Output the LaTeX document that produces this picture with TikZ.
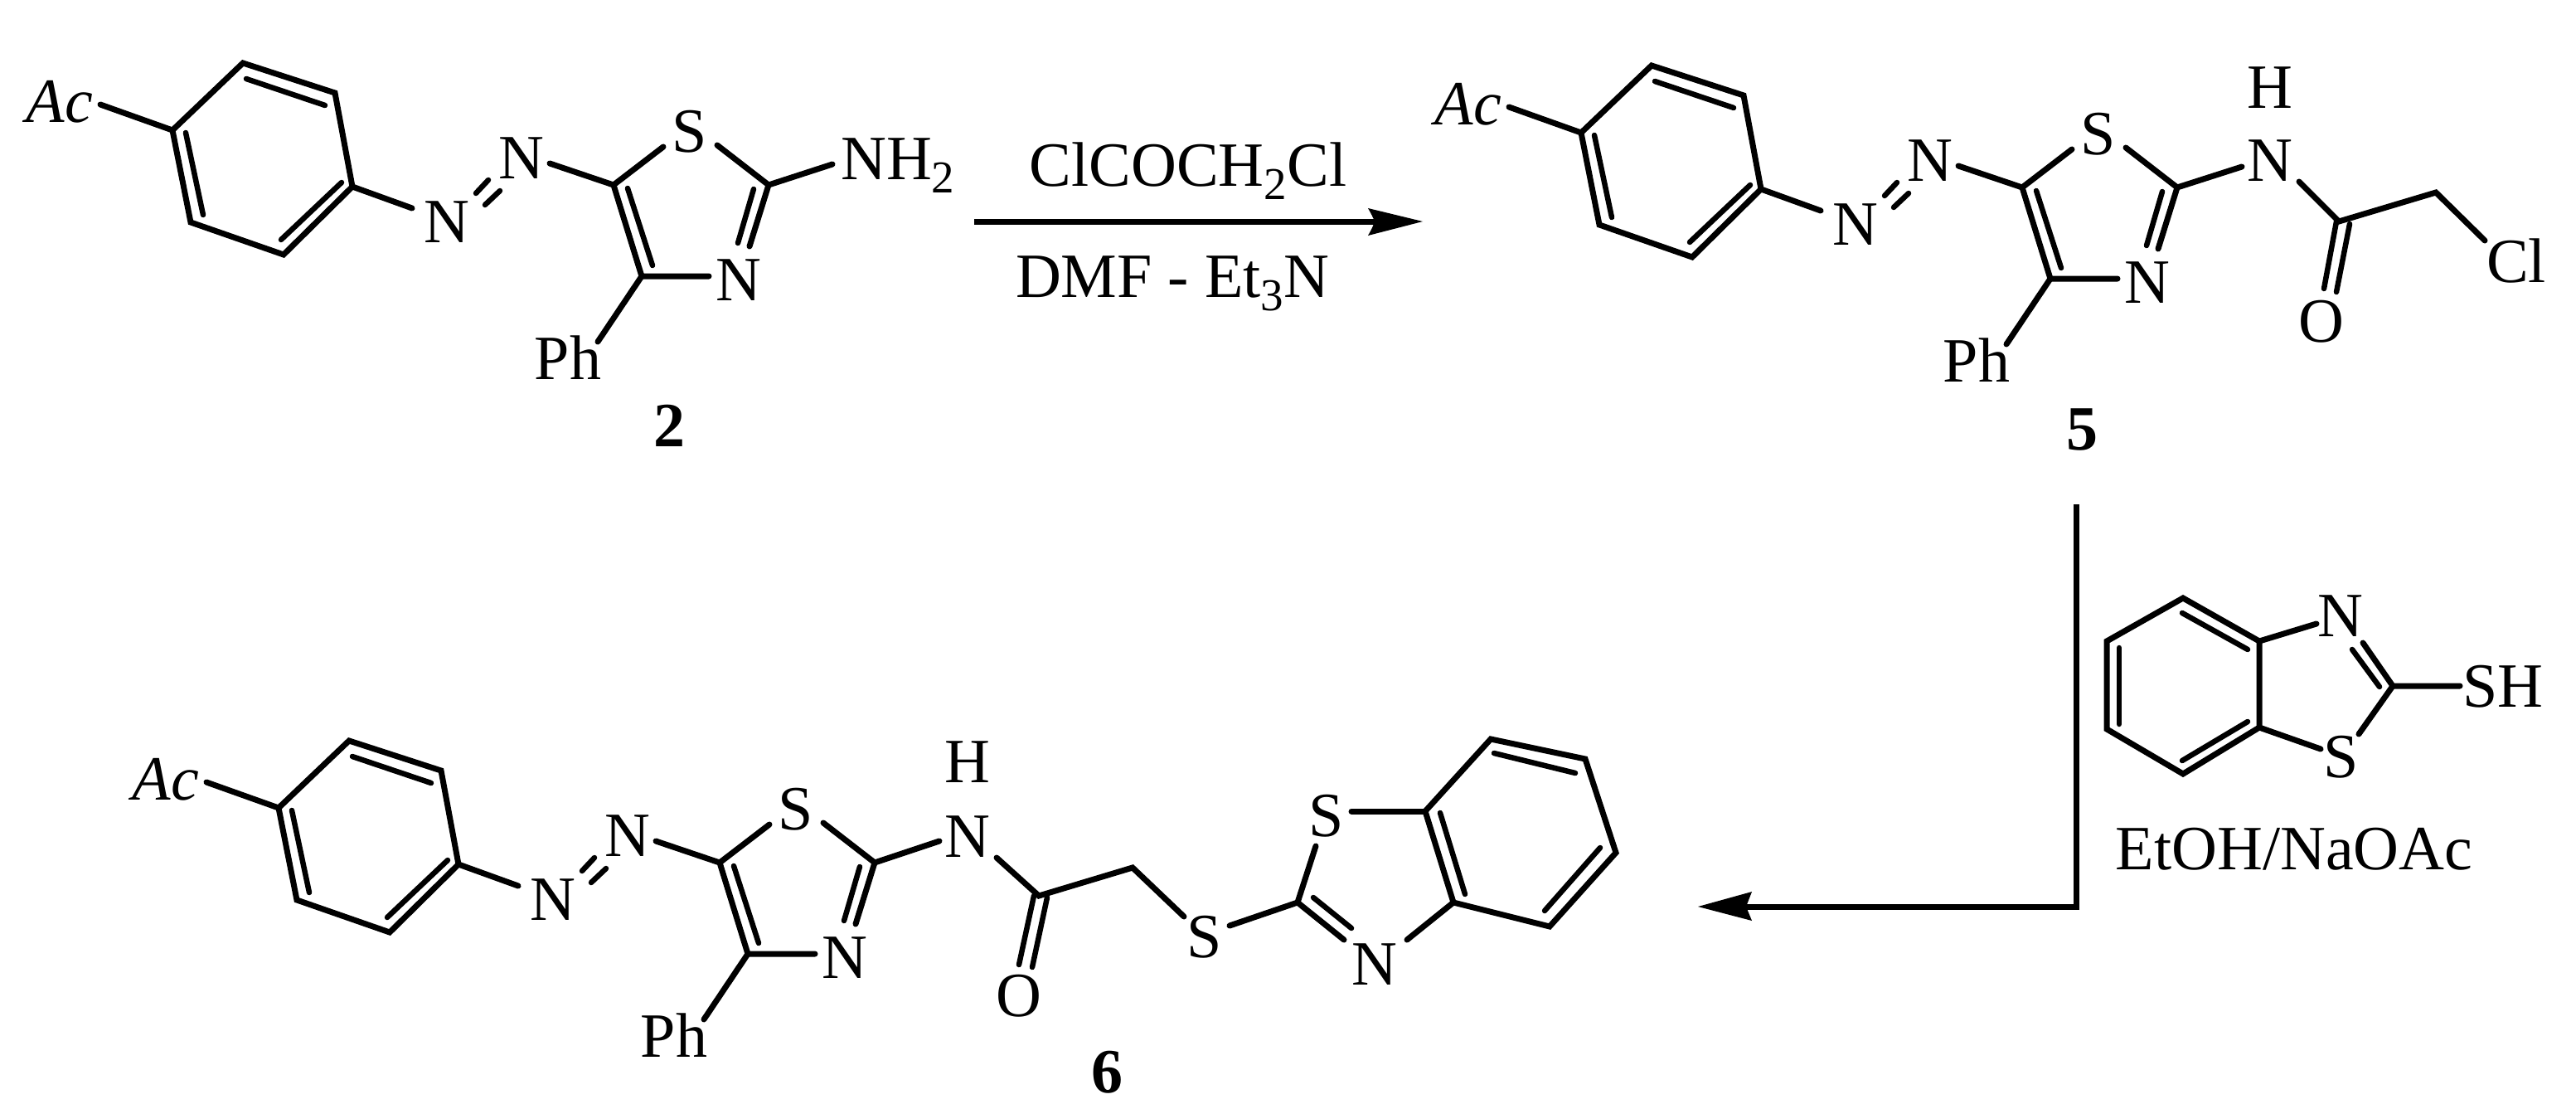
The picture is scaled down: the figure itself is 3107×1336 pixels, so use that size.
\documentclass[tikz,border=0pt]{standalone}
\usepackage{fontspec}
\setmainfont{Liberation Serif}
\newcommand{\atomfont}{\fontsize{76}{80}\selectfont}
\newcommand{\lowtwo}[1]{\raisebox{-16pt}{\fontsize{55}{60}\selectfont #1}}
\tikzset{
  bond/.style={line width=7pt,line cap=round,line join=miter,miter limit=10,black},
  inner/.style={line width=6.5pt,line cap=round,black},
  atomlab/.style={anchor=base,inner sep=0pt,font=\atomfont,text=black},
  molid/.style={anchor=base,inner sep=0pt,font=\atomfont\bfseries,text=black},
  reacarrow/.style={line width=7pt,black},
  arrowhead/.style={fill=black,draw=none}
}
% azo-phenyl-thiazole core: #1 prefix
\newcommand{\thiazolecore}[1]{
  \coordinate (#1a) at (208,157);
  \coordinate (#1b) at (293,76);
  \coordinate (#1c) at (404,112);
  \coordinate (#1d) at (425,225);
  \coordinate (#1e) at (342,307);
  \coordinate (#1f) at (230,268);
  \coordinate (#1bi) at (297,95);
  \coordinate (#1ci) at (392,127);
  \coordinate (#1ai) at (224,160);
  \coordinate (#1fi) at (245,259);
  \coordinate (#1di) at (412,220);
  \coordinate (#1ei) at (339,289);
  \coordinate (#1acx) at (121,126);
  \coordinate (#1nax) at (497,251);
  \coordinate (#1za) at (589,217);
  \coordinate (#1zb) at (574,233);
  \coordinate (#1zc) at (603,230);
  \coordinate (#1zd) at (585,247);
  \coordinate (#1nbx) at (663,197);
  \coordinate (#1cv) at (740,223);
  \coordinate (#1sa) at (800,177);
  \coordinate (#1sb) at (865,175);
  \coordinate (#1cii) at (927,223);
  \coordinate (#1nc) at (904,297);
  \coordinate (#1ciii) at (909,228);
  \coordinate (#1ncii) at (890,293);
  \coordinate (#1civ) at (774,333);
  \coordinate (#1ncx) at (855,333);
  \coordinate (#1cvi) at (757,227);
  \coordinate (#1civi) at (787,320);
  \coordinate (#1phx) at (721,412);
  \draw[bond] (#1a)--(#1b)--(#1c)--(#1d)--(#1e)--(#1f)--cycle;
  \draw[inner] (#1bi)--(#1ci);
  \draw[inner] (#1ai)--(#1fi);
  \draw[inner] (#1di)--(#1ei);
  \draw[bond] (#1a)--(#1acx);
  \draw[bond] (#1d)--(#1nax);
  \draw[inner] (#1za)--(#1zb);
  \draw[inner] (#1zc)--(#1zd);
  \draw[bond] (#1nbx)--(#1cv)--(#1sa);
  \draw[bond] (#1sb)--(#1cii)--(#1nc);
  \draw[inner] (#1ciii)--(#1ncii);
  \draw[bond] (#1cv)--(#1civ)--(#1ncx);
  \draw[inner] (#1cvi)--(#1civi);
  \draw[bond] (#1civ)--(#1phx);
  \node[atomlab] (#1ac) at (72,147) {\textit{Ac}};
  \node[atomlab] (#1na) at (539,292) {N};
  \node[atomlab] (#1nb) at (629,215) {N};
  \node[atomlab] (#1s) at (832,183) {S};
  \node[atomlab] (#1nn) at (891,362) {N};
  \node[atomlab] (#1ph) at (685,457) {Ph};
}
\begin{document}
\begin{tikzpicture}[x=1pt,y=-1pt]
\useasboundingbox (0,0) rectangle (3107,1336);
\fill[white] (0,0) rectangle (3107,1336);
% compound 2
\begin{scope}
  \thiazolecore{p}
  \coordinate (pnhx) at (1004,198);
  \draw[bond] (pcii)--(pnhx);
  \node[atomlab,anchor=base west] (pnh) at (1014,216) {NH\lowtwo{2}};
  \node[molid] (pid) at (807,538) {2};
\end{scope}
% compound 5
\begin{scope}[shift={(1699,3)}]
  \thiazolecore{q}
  \coordinate (qnhx) at (1005,198);
  \coordinate (qnhy) at (1074,216);
  \coordinate (qco) at (1122,264);
  \coordinate (qch) at (1239,229);
  \coordinate (qclx) at (1298,287);
  \coordinate (qoa) at (1135,267);
  \coordinate (qob) at (1119,349);
  \coordinate (qoc) at (1119,264);
  \coordinate (qod) at (1104,345);
  \draw[bond] (qcii)--(qnhx);
  \draw[bond] (qnhy)--(qco)--(qch)--(qclx);
  \draw[inner] (qoa)--(qob);
  \draw[inner] (qoc)--(qod);
  \node[atomlab] (qn) at (1039,215) {N};
  \node[atomlab] (qh) at (1039,127) {H};
  \node[atomlab] (qcl) at (1336,337) {Cl};
  \node[atomlab] (qo) at (1101,409) {O};
  \node[molid] (qid) at (812,539) {5};
\end{scope}
% compound 6
\begin{scope}[shift={(128,817)}]
  \thiazolecore{r}
  \coordinate (rnhx) at (1005,197);
  \coordinate (rnhy) at (1074,217);
  \coordinate (rco) at (1125,263);
  \coordinate (rch) at (1238,229);
  \coordinate (rsx) at (1300,288);
  \coordinate (roa) at (1135,265);
  \coordinate (rob) at (1117,349);
  \coordinate (roc) at (1119,263);
  \coordinate (rod) at (1101,346);
  \coordinate (rsy) at (1355,299);
  \coordinate (rbc) at (1437,271);
  \coordinate (rsz) at (1459,203);
  \coordinate (rsw) at (1502,161);
  \coordinate (rba) at (1591,161);
  \coordinate (rbb) at (1670,74);
  \coordinate (rbcc) at (1784,98);
  \coordinate (rbd) at (1821,211);
  \coordinate (rbe) at (1741,300);
  \coordinate (rbf) at (1625,271);
  \coordinate (rnx) at (1569,316);
  \coordinate (rny) at (1493,316);
  \coordinate (rnz) at (1502,302);
  \coordinate (rcz) at (1456,265);
  \coordinate (rai) at (1609,163);
  \coordinate (rfi) at (1639,261);
  \coordinate (rbi) at (1674,91);
  \coordinate (rci) at (1772,115);
  \coordinate (rdi) at (1802,205);
  \coordinate (rei) at (1735,281);
  \draw[bond] (rcii)--(rnhx);
  \draw[bond] (rnhy)--(rco)--(rch)--(rsx);
  \draw[inner] (roa)--(rob);
  \draw[inner] (roc)--(rod);
  \draw[bond] (rsy)--(rbc)--(rsz);
  \draw[bond] (rsw)--(rba);
  \draw[bond] (rba)--(rbb)--(rbcc)--(rbd)--(rbe)--(rbf)--cycle;
  \draw[inner] (rai)--(rfi);
  \draw[inner] (rbi)--(rci);
  \draw[inner] (rdi)--(rei);
  \draw[bond] (rbf)--(rnx);
  \draw[bond] (rbc)--(rny);
  \draw[inner] (rcz)--(rnz);
  \node[atomlab] (rn) at (1039,216) {N};
  \node[atomlab] (rh) at (1039,126) {H};
  \node[atomlab] (ro) at (1101,408) {O};
  \node[atomlab] (rsa) at (1325,337) {S};
  \node[atomlab] (rsb) at (1472,191) {S};
  \node[atomlab] (rnb) at (1530,370) {N};
  \node[molid] (rid) at (1207,500) {6};
\end{scope}
% reagent benzothiazole
\coordinate (ba) at (2633,721);
\coordinate (bb) at (2725,773);
\coordinate (bc) at (2725,877);
\coordinate (bd) at (2633,933);
\coordinate (be) at (2541,879);
\coordinate (bf) at (2541,773);
\coordinate (bai) at (2632,739);
\coordinate (bbi) at (2711,783);
\coordinate (bei) at (2556,781);
\coordinate (bfi) at (2556,873);
\coordinate (bci) at (2711,870);
\coordinate (bdi) at (2632,917);
\coordinate (bnx) at (2794,752);
\coordinate (bny) at (2850,775);
\coordinate (bcc) at (2886,827);
\coordinate (bnz) at (2837,783);
\coordinate (bcz) at (2870,828);
\coordinate (bshx) at (2967,827);
\coordinate (bsx) at (2845,885);
\coordinate (bsy) at (2799,903);
\draw[bond] (ba)--(bb)--(bc)--(bd)--(be)--(bf)--cycle;
\draw[inner] (bai)--(bbi);
\draw[inner] (bei)--(bfi);
\draw[inner] (bci)--(bdi);
\draw[bond] (bb)--(bnx);
\draw[bond] (bny)--(bcc)--(bshx);
\draw[inner] (bnz)--(bcz);
\draw[bond] (bcc)--(bsx);
\draw[bond] (bc)--(bsy);
\node[atomlab] (bn) at (2823,767) {N};
\node[atomlab] (bsh) at (3019,852) {SH};
\node[atomlab] (bs) at (2824,937) {S};
\node[atomlab] (cond) at (2767,1048) {EtOH/NaOAc};
% reaction arrows
\coordinate (t1) at (1175,267);
\coordinate (t2) at (1716,267);
\coordinate (ta) at (1650,251);
\coordinate (tb) at (1650,284);
\coordinate (tn) at (1658,267);
\node[atomlab] (rga) at (1433,224) {ClCOCH\lowtwo{2}Cl};
\node[atomlab] (rgb) at (1414,358) {DMF - Et\lowtwo{3}N};
\draw[reacarrow] (t1)--(tn);
\fill[arrowhead] (t2)--(ta) .. controls (1655,260) .. (tn) .. controls (1655,275) .. (tb)--cycle;
\coordinate (v1) at (2504,608);
\coordinate (v2) at (2504,1093);
\coordinate (v3) at (2048,1093);
\coordinate (va) at (2113,1075);
\coordinate (vb) at (2113,1110);
\coordinate (vn) at (2106,1093);
\draw[reacarrow] (v1)--(v2)--(vn);
\fill[arrowhead] (v3)--(va) .. controls (2109,1084) .. (vn) .. controls (2109,1102) .. (vb)--cycle;
\end{tikzpicture}
\end{document}
